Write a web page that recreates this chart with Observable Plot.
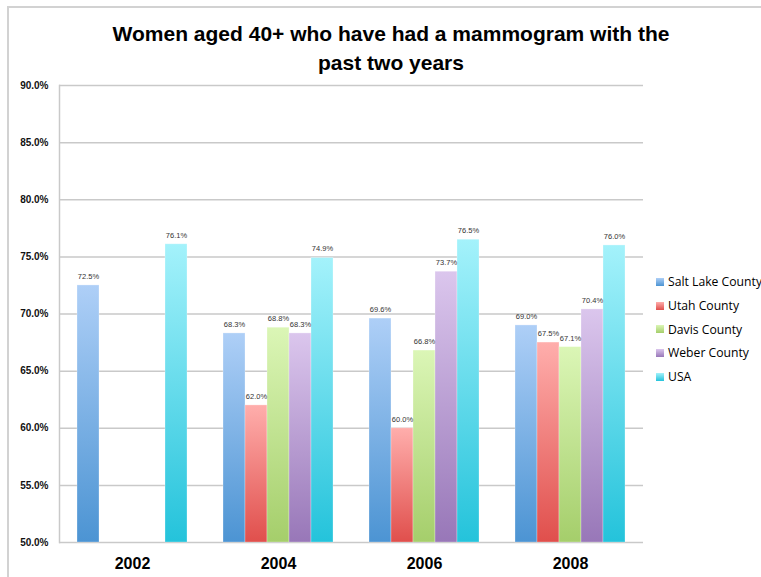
<!DOCTYPE html>
<html>
<head>
<meta charset="utf-8">
<script src="https://cdn.jsdelivr.net/npm/d3@7"></script>
<script src="https://cdn.jsdelivr.net/npm/@observablehq/plot@0.6"></script>
<style>
  html, body { margin: 0; padding: 0; background: #fff; }
  #wrap { position: relative; width: 761px; height: 577px; overflow: hidden; font-family: "Liberation Sans", Arial, sans-serif; }
  #border { position: absolute; left: 7px; top: 6px; width: 800px; height: 600px; border: 2px solid #d2d2d2; box-sizing: border-box; }
  #title { position: relative; height: 76px; box-sizing: border-box; padding-top: 19px; width: 782px; text-align: center;
           font-family: "Liberation Sans", Arial, sans-serif; font-weight: bold; font-size: 21px; line-height: 29px; color: #000; }
  #legend { position: absolute; left: 656px; top: 270px; font-family: "Open Sans", sans-serif; font-size: 12.2px; color: #000; }
  .item { height: 23.7px; display: flex; align-items: center; white-space: nowrap; }
  .sw { width: 8px; height: 8px; margin-right: 4px; }
  svg { display: block; }
</style>
</head>
<body>
<div id="wrap">
  <div id="border"></div>
  <div id="title">Women aged 40+ who have had a mammogram with the<br>past two years</div>
  <div id="chart"></div>
  <div id="legend"></div>
</div>
<script>
const years = ["2002", "2004", "2006", "2008"];
const series = ["Salt Lake County", "Utah County", "Davis County", "Weber County", "USA"];
const saltLake = [72.5, 68.3, 69.6, 69.0];
const utah = [null, 62.0, 60.0, 67.5];
const davis = [null, 68.8, 66.8, 67.1];
const weber = [null, 68.3, 73.7, 70.4];
const usa = [76.1, 74.9, 76.5, 76.0];
const yTicks = [50, 55, 60, 65, 70, 75, 80, 85, 90];
const gradTop = ["#aecff7", "#ffaeac", "#dbf6b6", "#dbc6ed", "#a4f2fb"];
const gradBottom = ["#4c94d3", "#e04f4c", "#a5ce6b", "#9877b8", "#24c3db"];

const valuesBySeries = [saltLake, utah, davis, weber, usa];
const rows = [];
series.forEach((s, si) => {
  years.forEach((y, yi) => {
    const v = valuesBySeries[si][yi];
    if (v != null) rows.push({year: y, series: s, value: v});
  });
});

const plot = Plot.plot({
  width: 761,
  height: 501,
  marginTop: 9,
  marginBottom: 35,
  marginLeft: 59,
  marginRight: 118,
  style: {fontFamily: "Liberation Sans, Arial, sans-serif", background: "transparent"},
  fx: {domain: years, padding: 0},
  x: {domain: series, paddingInner: 0, paddingOuter: 0.72, axis: null},
  y: {domain: [50, 90]},
  color: {type: "ordinal", domain: series, range: series.map((_, i) => `url(#grad${i})`)},
  marks: [
    Plot.ruleY(yTicks, {stroke: "#c9c9c9", strokeWidth: 1.5}),
    Plot.frame({anchor: "left", facetAnchor: "left", stroke: "#c9c9c9", strokeWidth: 1.5}),
    Plot.barY(rows, {fx: "year", x: "series", y1: 50, y2: "value", fill: "series", stroke: "#ffffff", strokeOpacity: 0.35, strokeWidth: 0.8}),
    Plot.text(rows, {fx: "year", x: "series", y: "value", text: d => d.value.toFixed(1) + "%", dy: -9, fontSize: 7.5, fill: "#333"}),
    Plot.axisY(yTicks, {tickSize: 0, tickPadding: 11, tickFormat: d => d.toFixed(1) + "%", fontWeight: "bold", fontSize: 10, fill: "#111", label: null}),
    Plot.axisFx({anchor: "bottom", tickSize: 0, tickPadding: 15, fontWeight: "bold", fontSize: 16, fill: "#000", label: null})
  ]
});

const defs = d3.select(plot).insert("defs", ":first-child");
series.forEach((s, i) => {
  const g = defs.append("linearGradient").attr("id", `grad${i}`).attr("x1", 0).attr("y1", 0).attr("x2", 0).attr("y2", 1);
  g.append("stop").attr("offset", "0%").attr("stop-color", gradTop[i]);
  g.append("stop").attr("offset", "100%").attr("stop-color", gradBottom[i]);
});

document.getElementById("chart").appendChild(plot);

const legend = d3.select("#legend");
series.forEach((s, i) => {
  const it = legend.append("div").attr("class", "item");
  it.append("div").attr("class", "sw").style("background", `linear-gradient(${gradTop[i]}, ${gradBottom[i]})`);
  it.append("span").text(s);
});
</script>
</body>
</html>
